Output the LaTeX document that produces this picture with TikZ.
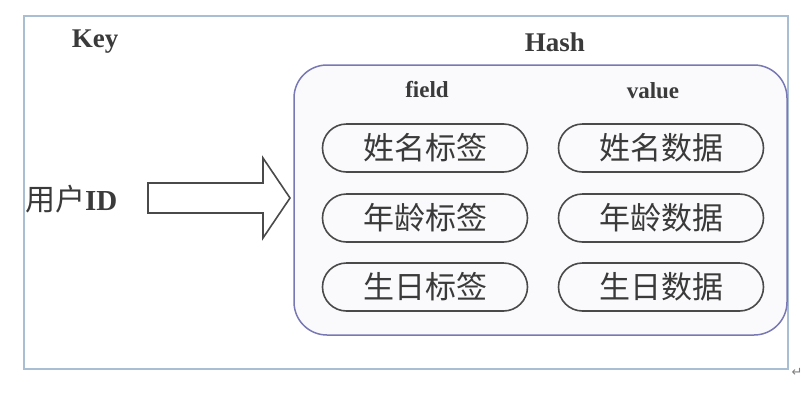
\documentclass[tikz,border=0pt]{standalone}
\usepackage{fontspec}
\setmainfont{Liberation Serif}
\newfontfamily\cjk{Noto Sans CJK SC}
\newfontfamily\djv{DejaVu Sans}
\usetikzlibrary{shapes.misc}
\definecolor{outerc}{HTML}{A9BED3}
\definecolor{hashc}{HTML}{7878B4}
\definecolor{pillc}{HTML}{4A4A4A}
\definecolor{txtc}{HTML}{3A3A3A}
\tikzset{
  pill/.style={rounded rectangle, draw=pillc, line width=1.6pt, minimum width=205pt, minimum height=48pt, inner sep=0pt, text=txtc, font=\cjk\fontsize{31}{31}\selectfont},
  title/.style={text=txtc, font=\bfseries\fontsize{27}{27}\selectfont, inner sep=0pt},
  colhead/.style={text=txtc, font=\bfseries\fontsize{23}{23}\selectfont, inner sep=0pt},
}
\begin{document}
\begin{tikzpicture}[x=1pt,y=-1pt]
\useasboundingbox (0,0) rectangle (807,405);
\fill[white] (0,0) rectangle (807,405);
% outer frame
\draw[outerc, line width=1.5pt] (24,16) rectangle (788,369);
% hash box
\draw[hashc, line width=1.5pt, fill={rgb,255:red,250;green,250;blue,252}, rounded corners=33pt] (294,65) rectangle (787,335);
% titles
\node[title] (key) at (95,42) {Key};
\node[title] (hash) at (555,42) {Hash};
\node[colhead] (field) at (427,90) {field};
\node[colhead] (value) at (653,91) {value};
% pills
\node[pill] (f1) at (425,148) {姓名标签};
\node[pill] (f2) at (425,218) {年龄标签};
\node[pill] (f3) at (425,287) {生日标签};
\node[pill] (v1) at (661,148) {姓名数据};
\node[pill] (v2) at (661,218) {年龄数据};
\node[pill] (v3) at (661,287) {生日数据};
% user id
\node[text=txtc, inner sep=0pt, anchor=west] (uid) at (25,199) {{\cjk\fontsize{30}{30}\selectfont 用户}{\bfseries\fontsize{29}{29}\selectfont ID}};
% block arrow
\draw[pillc, line width=1.6pt, line join=miter, fill=white]
  (148,183) -- (263,183) -- (263,158) -- (290,198) -- (263,238) -- (263,213) -- (148,213) -- cycle;
% paragraph mark
\node[text=gray, inner sep=0pt, font=\djv\fontsize{13}{13}\selectfont] (pm) at (797,372) {↵};
\end{tikzpicture}
\end{document}
